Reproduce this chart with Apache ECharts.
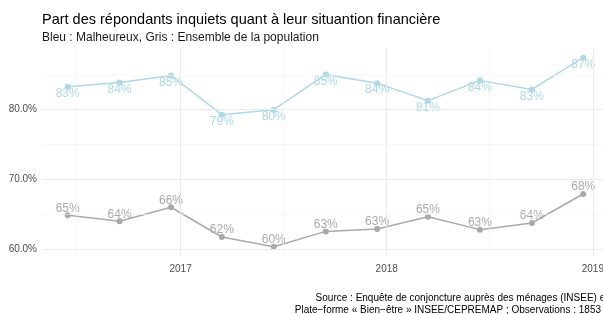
<!DOCTYPE html>
<html>
<head>
<meta charset="utf-8">
<script src="https://cdn.jsdelivr.net/npm/echarts@6/dist/echarts.min.js"></script>
<style>
html,body{margin:0;padding:0;background:#fff;}
#main{width:603px;height:314px;}
</style>
</head>
<body>
<div id="main"></div>
<script>
// dates des vagues (trimestrielles)
var dates = ['2016-06-15','2016-09-15','2016-12-15','2017-03-15','2017-06-15','2017-09-15',
             '2017-12-15','2018-03-15','2018-06-15','2018-09-15','2018-12-15'];
// Malheureux (bleu)
var malheureux = [83.3,83.9,84.9,79.3,80.0,85.05,83.8,81.3,84.2,82.9,87.45];
// Ensemble de la population (gris)
var ensemble = [64.9,64.05,66.05,61.8,60.4,62.6,62.95,64.7,62.85,63.8,67.95];
var yMajor = [60,70,80];
var yMinor = [65,75,85];
var xMajor = ['2017-01-01','2018-01-01','2019-01-01'];
var xMinor = ['2016-07-01','2017-07-01','2018-07-01'];

function ts(d){ return new Date(d+'T00:00:00Z').getTime(); }

var chart = echarts.init(document.getElementById('main'));

function pairs(v){
  var out=[];
  for(var i=0;i<dates.length;i++){ out.push([ts(dates[i]),v[i]]); }
  return out;
}
var gridLines = [];
yMajor.forEach(function(v){ gridLines.push({yAxis:v, lineStyle:{color:'#ebebeb',width:1,type:'solid'}}); });
yMinor.forEach(function(v){ gridLines.push({yAxis:v, lineStyle:{color:'#f3f3f3',width:0.6,type:'solid'}}); });
xMajor.forEach(function(v){ gridLines.push({xAxis:ts(v), lineStyle:{color:'#ebebeb',width:1,type:'solid'}}); });
xMinor.forEach(function(v){ gridLines.push({xAxis:ts(v), lineStyle:{color:'#f3f3f3',width:0.6,type:'solid'}}); });

chart.setOption({
  animation:false,
  textStyle:{fontFamily:'Liberation Sans'},
  title:{
    text:'Part des répondants inquiets quant à leur situantion financière',
    subtext:'Bleu : Malheureux, Gris : Ensemble de la population',
    left:37, top:7, itemGap:5,
    textStyle:{fontSize:14.5, fontWeight:'normal', color:'#000'},
    subtextStyle:{fontSize:12, color:'#1a1a1a'}
  },
  grid:{left:42, right:0, top:48, bottom:58, outerBoundsMode:'none', containLabel:false},
  xAxis:{
    type:'value',
    min:ts('2016-04-30')+13*3600000, max:ts('2019-01-19'),
    axisLine:{show:false}, axisTick:{show:false}, splitLine:{show:false},
    axisLabel:{
      customValues:xMajor.map(ts),
      formatter:function(v){return String(new Date(v).getUTCFullYear());},
      color:'#4d4d4d', fontSize:10, margin:8, showMinLabel:true, showMaxLabel:true
    }
  },
  yAxis:{
    type:'value', min:59.08, max:88.83,
    axisLine:{show:false}, axisTick:{show:false}, splitLine:{show:false},
    axisLabel:{
      customValues:yMajor,
      formatter:function(v){return v.toFixed(1)+'%';},
      color:'#4d4d4d', fontSize:10, margin:5
    }
  },
  series:[
    {
      type:'line', data:pairs(ensemble), z:1,
      symbol:'none', lineStyle:{opacity:0}, silent:true,
      markLine:{silent:true, symbol:'none', label:{show:false}, data:gridLines, animation:false}
    },
    {
      name:'Malheureux', type:'line', data:pairs(malheureux), z:3,
      symbol:'circle', symbolSize:6,
      itemStyle:{color:'#ADD8E6'}, lineStyle:{color:'#ADD8E6', width:1.5},
      label:{show:true, position:'bottom', distance:-2, color:'#ADD8E6', fontSize:12,
        formatter:function(p){return Math.round(p.value[1])+'%';}}
    },
    {
      name:'Ensemble', type:'line', data:pairs(ensemble), z:3,
      symbol:'circle', symbolSize:6,
      itemStyle:{color:'#A9A9A9'}, lineStyle:{color:'#A9A9A9', width:1.5},
      label:{show:true, position:'top', distance:-2, color:'#A9A9A9', fontSize:12,
        formatter:function(p){return Math.round(p.value[1])+'%';}}
    }
  ],
  graphic:[
    {type:'text', right:-5, top:293, style:{
      text:'Source : Enquête de conjoncture auprès des ménages (INSEE) et',
      align:'right', fontSize:10, fill:'#000', fontFamily:'Liberation Sans'}},
    {type:'text', right:2, top:305, style:{
      text:'Plate−forme « Bien−être » INSEE/CEPREMAP ; Observations : 1853',
      align:'right', fontSize:10, fill:'#000', fontFamily:'Liberation Sans'}}
  ]
});
</script>
</body>
</html>
